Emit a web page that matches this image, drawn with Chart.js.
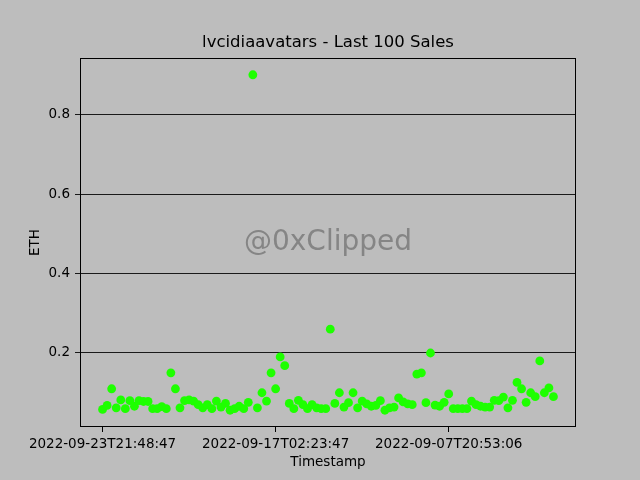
<!DOCTYPE html>
<html>
<head>
<meta charset="utf-8">
<script src="https://cdn.jsdelivr.net/npm/chart.js@4/dist/chart.umd.min.js"></script>
<style>
  html, body { margin: 0; padding: 0; background: #bdbdbd; }
  #wrap { width: 640px; height: 480px; }
</style>
</head>
<body>
<div id="wrap"><canvas id="salesChart" width="640" height="480"></canvas></div>
<script>
const chartTitle = 'lvcidiaavatars - Last 100 Sales';
const watermark = '@0xClipped';

// sale prices in ETH, most recent first
const prices = [
  0.058, 0.068, 0.11, 0.062, 0.082, 0.06, 0.08, 0.066, 0.08, 0.078,
  0.078, 0.06, 0.06, 0.065, 0.06, 0.15, 0.11, 0.062, 0.08, 0.082,
  0.079, 0.07, 0.062, 0.07, 0.06, 0.079, 0.064, 0.073, 0.056, 0.06,
  0.066, 0.06, 0.076, 0.9, 0.062, 0.10, 0.079, 0.15, 0.11, 0.19,
  0.168, 0.073, 0.06, 0.081, 0.07, 0.06, 0.07, 0.062, 0.06, 0.06,
  0.26, 0.073, 0.10, 0.064, 0.075, 0.10, 0.062, 0.079, 0.072, 0.066,
  0.068, 0.08, 0.056, 0.062, 0.064, 0.087, 0.077, 0.072, 0.07, 0.147,
  0.15, 0.075, 0.20, 0.069, 0.066, 0.076, 0.097, 0.06, 0.06, 0.06,
  0.06, 0.079, 0.07, 0.066, 0.064, 0.064, 0.081, 0.08, 0.089, 0.062,
  0.081, 0.126, 0.11, 0.076, 0.10, 0.09, 0.18, 0.10, 0.112, 0.09
];

// only these timestamps are shown on the x axis
const tickIndex = [0, 38, 76];
const tickLabels = ['2022-09-23T21:48:47', '2022-09-17T02:23:47', '2022-09-07T20:53:06'];
const yTicks = [0.2, 0.4, 0.6, 0.8];

const points = prices.map((p, i) => ({x: i, y: p}));

// matplotlib style 5% margins
const n = prices.length;
const xPad = (n - 1) * 0.05;
const yLo = Math.min(...prices), yHi = Math.max(...prices);
const yPad = (yHi - yLo) * 0.05;

// title centred over the plot area, watermark in the middle, full frame
const frameAndMark = {
  id: 'frameAndMark',
  beforeDatasetsDraw(chart) {
    const {ctx, chartArea: a} = chart;
    const cx = (a.left + a.right) / 2;
    ctx.save();
    ctx.textAlign = 'center';
    ctx.textBaseline = 'middle';
    ctx.font = '28px "DejaVu Sans"';
    ctx.fillStyle = '#858585';
    ctx.fillText(watermark, cx, (a.top + a.bottom) / 2);
    ctx.font = '16.5px "DejaVu Sans"';
    ctx.fillStyle = '#000';
    ctx.fillText(chartTitle, cx, a.top - 15);
    ctx.restore();
  },
  afterDraw(chart) {
    const {ctx, chartArea: a} = chart;
    ctx.save();
    ctx.strokeStyle = '#000';
    ctx.lineWidth = 1;
    ctx.strokeRect(Math.round(a.left) + 0.5, Math.round(a.top) + 0.5,
      Math.round(a.right - a.left) - 1, Math.round(a.bottom - a.top) - 1);
    ctx.restore();
  }
};

Chart.defaults.font.family = '"DejaVu Sans", sans-serif';
Chart.defaults.color = '#000';

new Chart(document.getElementById('salesChart'), {
  type: 'scatter',
  data: {
    datasets: [{
      data: points,
      backgroundColor: '#1eff00',
      borderWidth: 0,
      pointRadius: 4.4,
      pointHoverRadius: 4.4
    }]
  },
  options: {
    responsive: false,
    animation: false,
    layout: { padding: { left: 0, right: 64, top: 58, bottom: 0 } },
    plugins: {
      legend: { display: false },
      tooltip: { enabled: false },
      title: { display: false }
    },
    scales: {
      x: {
        type: 'linear',
        min: -xPad,
        max: n - 1 + xPad,
        afterBuildTicks: s => { s.ticks = tickIndex.map(v => ({value: v})); },
        afterFit: s => { s.height = 53; },
        ticks: {
          autoSkip: false,
          maxRotation: 0,
          padding: 4,
          font: { size: 13.5 },
          callback: v => tickLabels[tickIndex.indexOf(v)] || ''
        },
        grid: { drawOnChartArea: false, drawTicks: true, tickLength: 5, color: '#000' },
        border: { display: false },
        title: { display: true, text: 'Timestamp', font: { size: 13.5 }, padding: { top: 0, bottom: 9 } }
      },
      y: {
        min: yLo - yPad,
        max: yHi + yPad,
        afterBuildTicks: s => { s.ticks = yTicks.map(v => ({value: v})); },
        afterFit: s => { s.width = 80; },
        ticks: {
          padding: 5,
          font: { size: 13.5 },
          callback: v => v.toFixed(1)
        },
        grid: { drawOnChartArea: true, drawTicks: true, tickLength: 5, color: '#1a1a1a', lineWidth: 1 },
        border: { display: false },
        title: { display: true, text: 'ETH', font: { size: 13.5 }, padding: { top: 27, bottom: 0 } }
      }
    }
  },
  plugins: [frameAndMark]
});
</script>
</body>
</html>
